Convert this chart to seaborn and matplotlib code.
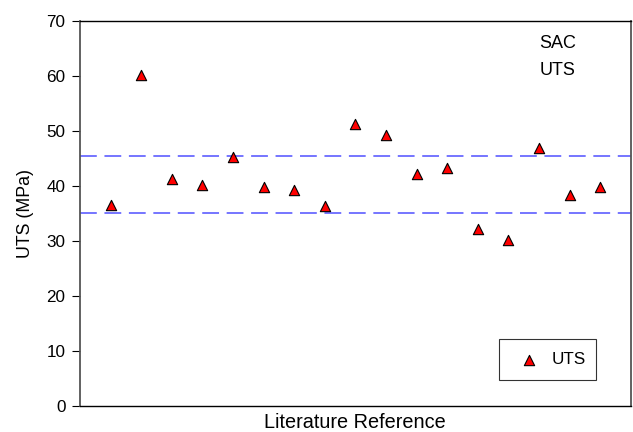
import matplotlib
matplotlib.use("Agg")
import matplotlib.pyplot as plt
import seaborn as sns
import pandas as pd

# UTS values reported across the literature for SAC solder
reference_index = list(range(1, 18))
uts_mpa = [36.5, 60.2, 41.2, 40.2, 45.2, 39.8, 39.2, 36.3, 51.2, 49.2,
           42.1, 43.2, 32.1, 30.2, 46.8, 38.3, 39.7]
band_levels = [45.4, 35.0]
y_ticks = [0, 10, 20, 30, 40, 50, 60, 70]

sns.set_theme(style="white")
plt.rcParams["font.family"] = ["Liberation Sans", "DejaVu Sans"]
plt.rcParams["text.color"] = "black"
plt.rcParams["axes.labelcolor"] = "black"
plt.rcParams["xtick.color"] = "black"
plt.rcParams["ytick.color"] = "black"

df = pd.DataFrame({"ref": reference_index, "uts": uts_mpa})

fig = plt.figure(figsize=(6.33, 4.32), dpi=100)
ax = fig.add_axes([0.1264, 0.0609, 0.87, 0.8911])

sns.scatterplot(data=df, x="ref", y="uts", marker="^", s=55,
                color="#ff0000", edgecolor="black", linewidth=0.8,
                label="UTS", ax=ax, zorder=3)

for lvl in band_levels:
    ax.axhline(lvl, color="#5050ff", lw=1.1, dashes=(11, 5), zorder=2)

ax.set_xlim(0, 18)
ax.set_ylim(0, 70)
ax.set_yticks(y_ticks)
ax.set_xticks([])
ax.tick_params(axis="y", which="both", left=True, length=5.5, width=0.8,
               color="black", labelcolor="black", labelsize=12.3, pad=5)
ax.set_xlabel("Literature Reference", fontsize=14.3, labelpad=5, color="black")
ax.set_ylabel("UTS (MPa)", fontsize=12.8, labelpad=9, color="black")

for side in ["top", "bottom"]:
    ax.spines[side].set_color("black")
    ax.spines[side].set_linewidth(1.0)
for side in ["left", "right"]:
    ax.spines[side].set_color("#555555")
    ax.spines[side].set_linewidth(1.3)

ax.text(0.868, 0.906, "SAC\nUTS", transform=ax.transAxes, fontsize=13,
        ha="center", va="center", linespacing=1.75, color="black")

leg = ax.legend(loc="lower left", bbox_to_anchor=(0.761, 0.067, 0.176, 0.101),
                mode="expand", borderaxespad=0, frameon=True, fancybox=False,
                fontsize=12.3, handletextpad=0.35, borderpad=0.75,
                markerscale=1.0)
leg.get_frame().set_edgecolor("black")
leg.get_frame().set_linewidth(0.8)
for t in leg.get_texts():
    t.set_color("black")

fig.savefig("out.png", dpi=100)
